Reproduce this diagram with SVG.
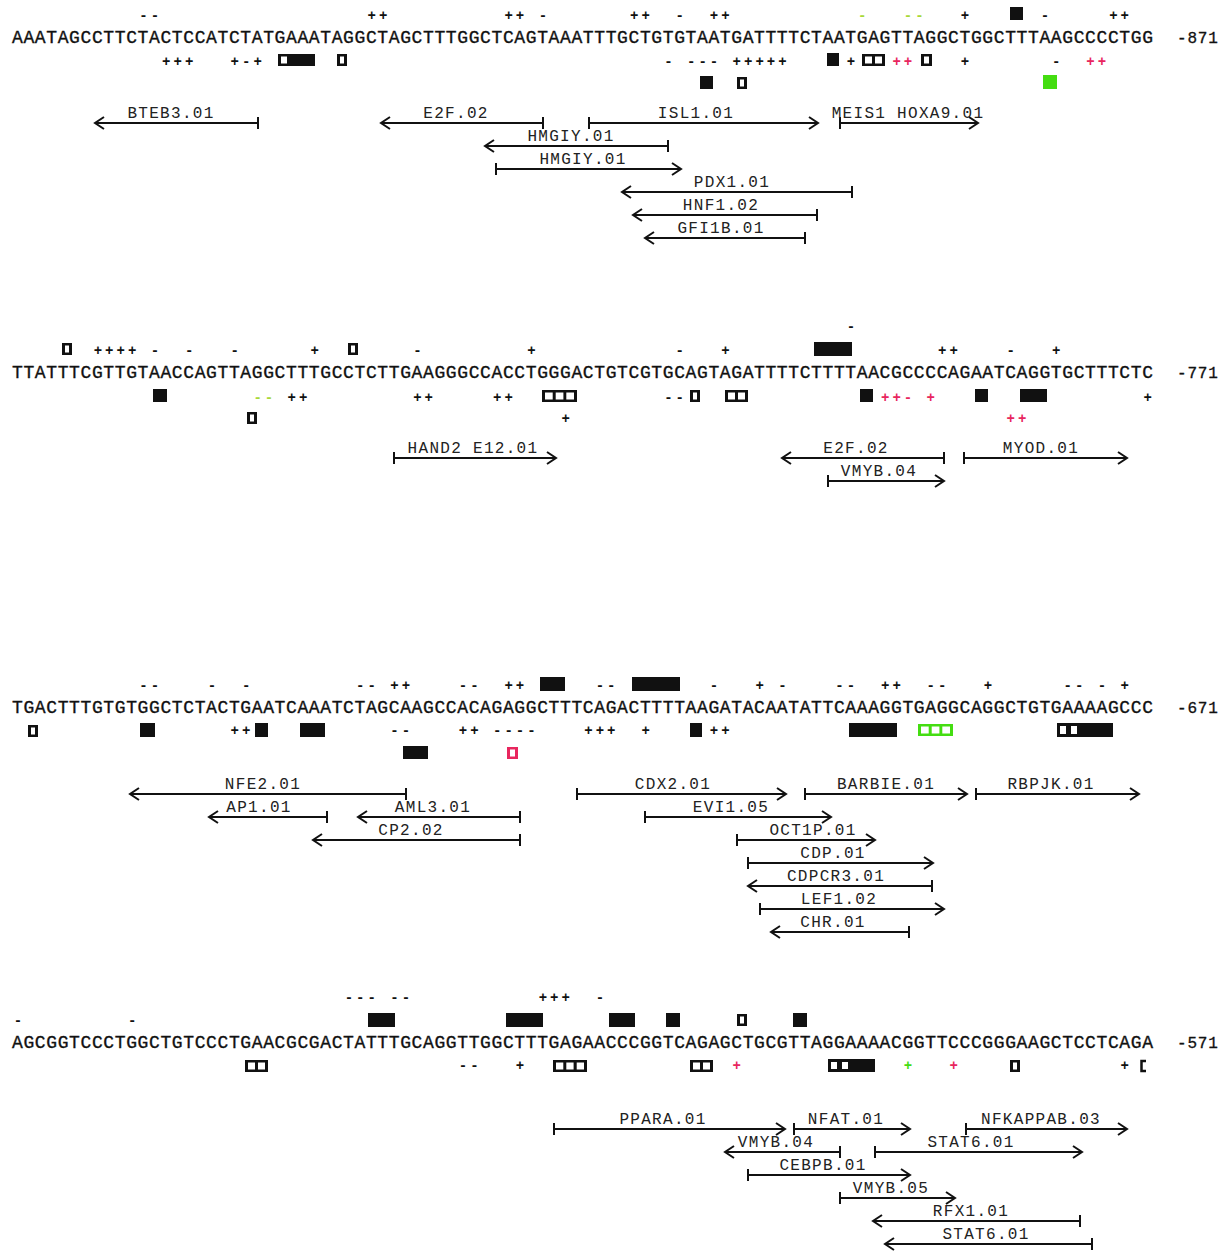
<svg xmlns="http://www.w3.org/2000/svg" width="1231" height="1254" viewBox="0 0 1231 1254">
<style>
.seq{font-family:"Liberation Mono",monospace;font-size:18px;fill:#111;stroke:#111;stroke-width:0.35px}
.pos{font-family:"Liberation Mono",monospace;font-size:16px;fill:#111;letter-spacing:0.8px;stroke:#111;stroke-width:0.3px}
.m{font-family:"Liberation Mono",monospace;font-size:14px;font-weight:bold;letter-spacing:3.01px;fill:#111}
.r{fill:#e8265e}
.gy{fill:#a8d838}
.gb{fill:#44dd11}
.b{fill:#111}
.h{fill:#fff}
.lab{font-family:"Liberation Mono",monospace;font-size:16px;letter-spacing:1.3px;fill:#222;text-anchor:middle}
.arr{stroke:#111;stroke-width:2;fill:none}
</style>
<defs>
<marker id="head" markerUnits="userSpaceOnUse" markerWidth="20" markerHeight="20" refX="0" refY="0" viewBox="-12 -10 14 20" orient="auto" overflow="visible">
<path d="M-9,-6 L0,0 L-9,6" stroke="#111" stroke-width="2" fill="none"/>
</marker>
<marker id="tick" markerUnits="userSpaceOnUse" markerWidth="6" markerHeight="16" refX="0" refY="0" viewBox="-3 -8 6 16" orient="auto" overflow="visible">
<path d="M0,-6 L0,6" stroke="#111" stroke-width="2"/>
</marker>
</defs>
<rect width="1231" height="1254" fill="#fff"/>

<!-- Block 1 -->
<g id="block1">
<text class="seq" x="12" y="43" textLength="1141" lengthAdjust="spacing">AAATAGCCTTCTACTCCATCTATGAAATAGGCTAGCTTTGGCTCAGTAAATTTGCTGTGTAATGATTTTCTAATGAGTTAGGCTGGCTTTAAGCCCCTGG</text>
<text class="pos" x="1177" y="43">-871</text>
<g id="b1-top">
<text class="m" x="139.3" y="19.5">--</text>
<text class="m" x="367.5" y="19.5">++</text>
<text class="m" x="504.4" y="19.5">++</text>
<text class="m" x="538.7" y="19.5">-</text>
<text class="m" x="630.0" y="19.5">++</text>
<text class="m" x="675.6" y="19.5">-</text>
<text class="m" x="709.8" y="19.5">++</text>
<text class="m gy" x="858.1" y="19.5">-</text>
<text class="m gy" x="903.8" y="19.5">--</text>
<text class="m" x="960.8" y="19.5">+</text>
<rect class="b" x="1010" y="7" width="13" height="13"/>
<text class="m" x="1040.7" y="19.5">-</text>
<text class="m" x="1109.2" y="19.5">++</text>
</g>
<g id="b1-bottom">
<text class="m" x="162.1" y="65.5">+++</text>
<text class="m" x="230.6" y="65.5">+-+</text>
<rect class="b" x="278" y="54" width="37" height="12"/><rect class="h" x="281" y="56.5" width="6" height="7"/>
<rect class="b" x="337" y="54" width="10" height="12"/><rect class="h" x="340" y="56.5" width="4" height="7"/>
<text class="m" x="664.2" y="65.5">-</text>
<text class="m" x="687.0" y="65.5">---</text>
<text class="m" x="732.6" y="65.5">+++++</text>
<rect class="b" x="827" y="53" width="12" height="13"/>
<text class="m" x="846.7" y="65.5">+</text>
<rect class="b" x="862" y="54" width="23" height="12"/><rect class="h" x="865" y="56.5" width="7" height="7"/><rect class="h" x="875" y="56.5" width="7" height="7"/>
<text class="m r" x="892.4" y="65.5">++</text>
<rect class="b" x="921" y="54" width="11" height="12"/><rect class="h" x="924" y="56.5" width="5" height="7"/>
<text class="m" x="960.8" y="65.5">+</text>
<text class="m" x="1052.1" y="65.5">-</text>
<text class="m r" x="1086.3" y="65.5">++</text>
<rect class="b" x="700" y="76" width="13" height="13"/>
<rect class="b" x="737" y="77" width="10" height="12"/><rect class="h" x="740" y="79.5" width="4" height="7"/>
<rect class="gb" x="1043" y="75" width="14" height="14"/>
</g>
</g>

<!-- Block 2 -->
<g id="block2">
<text class="seq" x="12" y="378" textLength="1141" lengthAdjust="spacing">TTATTTCGTTGTAACCAGTTAGGCTTTGCCTCTTGAAGGGCCACCTGGGACTGTCGTGCAGTAGATTTTCTTTTAACGCCCCAGAATCAGGTGCTTTCTC</text>
<text class="pos" x="1177" y="378">-771</text>
<g id="b2-top">
<rect class="b" x="62" y="343" width="10" height="12"/><rect class="h" x="65" y="345.5" width="4" height="7"/>
<text class="m" x="93.7" y="354.5">++++</text>
<text class="m" x="150.7" y="354.5">-</text>
<text class="m" x="185.0" y="354.5">-</text>
<text class="m" x="230.6" y="354.5">-</text>
<text class="m" x="310.5" y="354.5">+</text>
<rect class="b" x="348" y="343" width="10" height="12"/><rect class="h" x="351" y="345.5" width="4" height="7"/>
<text class="m" x="413.2" y="354.5">-</text>
<text class="m" x="527.2" y="354.5">+</text>
<text class="m" x="675.6" y="354.5">-</text>
<text class="m" x="721.2" y="354.5">+</text>
<text class="m" x="846.7" y="330.5">-</text>
<rect class="b" x="814" y="342" width="38" height="14"/>
<text class="m" x="938.0" y="354.5">++</text>
<text class="m" x="1006.5" y="354.5">-</text>
<text class="m" x="1052.1" y="354.5">+</text>
</g>
<g id="b2-bottom">
<rect class="b" x="153" y="389" width="14" height="13"/>
<text class="m gy" x="253.4" y="401.5">--</text>
<text class="m" x="287.6" y="401.5">++</text>
<text class="m" x="413.2" y="401.5">++</text>
<text class="m" x="493.0" y="401.5">++</text>
<rect class="b" x="542" y="390" width="35" height="12"/><rect class="h" x="545" y="392.5" width="7.7" height="7"/><rect class="h" x="555.7" y="392.5" width="7.7" height="7"/><rect class="h" x="566.3" y="392.5" width="7.7" height="7"/>
<text class="m" x="664.2" y="401.5">--</text>
<rect class="b" x="690" y="390" width="10" height="12"/><rect class="h" x="693" y="392.5" width="4" height="7"/>
<rect class="b" x="725" y="390" width="23" height="12"/><rect class="h" x="728" y="392.5" width="7" height="7"/><rect class="h" x="738" y="392.5" width="7" height="7"/>
<rect class="b" x="860" y="389" width="13" height="13"/>
<text class="m r" x="881.0" y="401.5">++-</text>
<text class="m r" x="926.6" y="401.5">+</text>
<rect class="b" x="975" y="389" width="13" height="13"/>
<rect class="b" x="1020" y="389" width="27" height="13"/>
<text class="m" x="1143.4" y="401.5">+</text>
<rect class="b" x="247" y="412" width="10" height="12"/><rect class="h" x="250" y="414.5" width="4" height="7"/>
<text class="m" x="561.5" y="422.5">+</text>
<text class="m r" x="1006.5" y="422.5">++</text>
</g>
</g>

<!-- Block 3 -->
<g id="block3">
<text class="seq" x="12" y="713" textLength="1141" lengthAdjust="spacing">TGACTTTGTGTGGCTCTACTGAATCAAATCTAGCAAGCCACAGAGGCTTTCAGACTTTTAAGATACAATATTCAAAGGTGAGGCAGGCTGTGAAAAGCCC</text>
<text class="pos" x="1177" y="713">-671</text>
<g id="b3-top">
<text class="m" x="139.3" y="689.5">--</text>
<text class="m" x="207.8" y="689.5">-</text>
<text class="m" x="242.0" y="689.5">-</text>
<text class="m" x="356.1" y="689.5">--</text>
<text class="m" x="390.3" y="689.5">++</text>
<text class="m" x="458.8" y="689.5">--</text>
<text class="m" x="504.4" y="689.5">++</text>
<rect class="b" x="540" y="677" width="25" height="14"/>
<text class="m" x="595.7" y="689.5">--</text>
<rect class="b" x="632" y="677" width="48" height="14"/>
<text class="m" x="709.8" y="689.5">-</text>
<text class="m" x="755.5" y="689.5">+</text>
<text class="m" x="778.3" y="689.5">-</text>
<text class="m" x="835.3" y="689.5">--</text>
<text class="m" x="881.0" y="689.5">++</text>
<text class="m" x="926.6" y="689.5">--</text>
<text class="m" x="983.7" y="689.5">+</text>
<text class="m" x="1063.5" y="689.5">--</text>
<text class="m" x="1097.8" y="689.5">-</text>
<text class="m" x="1120.6" y="689.5">+</text>
</g>
<g id="b3-bottom">
<rect class="b" x="28" y="725" width="10" height="12"/><rect class="h" x="31" y="727.5" width="4" height="7"/>
<rect class="b" x="140" y="723" width="15" height="14"/>
<text class="m" x="230.6" y="734.5">++</text>
<rect class="b" x="255" y="723" width="13" height="14"/>
<rect class="b" x="300" y="723" width="25" height="14"/>
<text class="m" x="390.3" y="734.5">--</text>
<text class="m" x="458.8" y="734.5">++</text>
<text class="m" x="493.0" y="734.5">----</text>
<text class="m" x="584.3" y="734.5">+++</text>
<text class="m" x="641.4" y="734.5">+</text>
<rect class="b" x="690" y="723" width="12" height="14"/>
<text class="m" x="709.8" y="734.5">++</text>
<rect class="b" x="849" y="723" width="48" height="14"/>
<rect class="gb" x="918" y="724" width="35" height="12"/><rect class="h" x="921" y="726.5" width="7.7" height="7"/><rect class="h" x="931.7" y="726.5" width="7.7" height="7"/><rect class="h" x="942.3" y="726.5" width="7.7" height="7"/>
<rect class="b" x="1057" y="723" width="56" height="14"/><rect class="h" x="1060" y="726" width="6" height="8"/><rect class="h" x="1071" y="726" width="6" height="8"/>
<rect class="b" x="403" y="746" width="25" height="13"/>
<rect class="r" x="507" y="747" width="11" height="12"/><rect class="h" x="510" y="749.5" width="5" height="7"/>
</g>
</g>

<!-- Block 4 -->
<g id="block4">
<text class="seq" x="12" y="1048" textLength="1141" lengthAdjust="spacing">AGCGGTCCCTGGCTGTCCCTGAACGCGACTATTTGCAGGTTGGCTTTGAGAACCCGGTCAGAGCTGCGTTAGGAAAACGGTTCCCGGGAAGCTCCTCAGA</text>
<text class="pos" x="1177" y="1048">-571</text>
<g id="b4-top">
<text class="m" x="344.7" y="1001.5">---</text>
<text class="m" x="390.3" y="1001.5">--</text>
<text class="m" x="538.7" y="1001.5">+++</text>
<text class="m" x="595.7" y="1001.5">-</text>
<text class="m" x="13.8" y="1024.5">-</text>
<text class="m" x="127.9" y="1024.5">-</text>
<rect class="b" x="368" y="1013" width="27" height="14"/>
<rect class="b" x="506" y="1013" width="37" height="14"/>
<rect class="b" x="609" y="1013" width="26" height="14"/>
<rect class="b" x="666" y="1013" width="14" height="14"/>
<rect class="b" x="737" y="1014" width="10" height="12"/><rect class="h" x="740" y="1016.5" width="4" height="7"/>
<rect class="b" x="793" y="1013" width="14" height="14"/>
</g>
<g id="b4-bottom">
<rect class="b" x="245" y="1060" width="23" height="12"/><rect class="h" x="248" y="1062.5" width="7" height="7"/><rect class="h" x="258" y="1062.5" width="7" height="7"/>
<text class="m" x="458.8" y="1069.5">--</text>
<text class="m" x="515.8" y="1069.5">+</text>
<rect class="b" x="553" y="1060" width="34" height="12"/><rect class="h" x="556" y="1062.5" width="7.3" height="7"/><rect class="h" x="566.3" y="1062.5" width="7.3" height="7"/><rect class="h" x="576.7" y="1062.5" width="7.3" height="7"/>
<rect class="b" x="690" y="1060" width="23" height="12"/><rect class="h" x="693" y="1062.5" width="7" height="7"/><rect class="h" x="703" y="1062.5" width="7" height="7"/>
<text class="m r" x="732.6" y="1069.5">+</text>
<rect class="b" x="828" y="1059" width="47" height="13"/><rect class="h" x="831" y="1062" width="6" height="7"/><rect class="h" x="842" y="1062" width="6" height="7"/>
<text class="m gb" x="903.8" y="1069.5">+</text>
<text class="m r" x="949.4" y="1069.5">+</text>
<rect class="b" x="1010" y="1060" width="10" height="12"/><rect class="h" x="1013" y="1062.5" width="4" height="7"/>
<text class="m" x="1120.6" y="1069.5">+</text>
<path d="M1146,1061 H1141.5 V1071 H1146" stroke="#111" stroke-width="2.5" fill="none"/>
</g>
</g>

<!-- Binding sites (connectors) -->
<g id="connectors">
<path class="arr" d="M258,123 H95" marker-start="url(#tick)" marker-end="url(#head)"/>
<path class="arr" d="M543,123 H381" marker-start="url(#tick)" marker-end="url(#head)"/>
<path class="arr" d="M589,123 H818" marker-start="url(#tick)" marker-end="url(#head)"/>
<path class="arr" d="M840,123 H978" marker-start="url(#tick)" marker-end="url(#head)"/>
<path class="arr" d="M668,146 H485" marker-start="url(#tick)" marker-end="url(#head)"/>
<path class="arr" d="M496,169 H681" marker-start="url(#tick)" marker-end="url(#head)"/>
<path class="arr" d="M852,192 H622" marker-start="url(#tick)" marker-end="url(#head)"/>
<path class="arr" d="M817,215 H633" marker-start="url(#tick)" marker-end="url(#head)"/>
<path class="arr" d="M805,238 H645" marker-start="url(#tick)" marker-end="url(#head)"/>

<path class="arr" d="M394,458 H556" marker-start="url(#tick)" marker-end="url(#head)"/>
<path class="arr" d="M944,458 H782" marker-start="url(#tick)" marker-end="url(#head)"/>
<path class="arr" d="M964,458 H1127" marker-start="url(#tick)" marker-end="url(#head)"/>
<path class="arr" d="M828,481 H944" marker-start="url(#tick)" marker-end="url(#head)"/>

<path class="arr" d="M406,794 H130" marker-start="url(#tick)" marker-end="url(#head)"/>
<path class="arr" d="M577,794 H786" marker-start="url(#tick)" marker-end="url(#head)"/>
<path class="arr" d="M805,794 H967" marker-start="url(#tick)" marker-end="url(#head)"/>
<path class="arr" d="M976,794 H1139" marker-start="url(#tick)" marker-end="url(#head)"/>
<path class="arr" d="M327,817 H209" marker-start="url(#tick)" marker-end="url(#head)"/>
<path class="arr" d="M520,817 H358" marker-start="url(#tick)" marker-end="url(#head)"/>
<path class="arr" d="M645,817 H831" marker-start="url(#tick)" marker-end="url(#head)"/>
<path class="arr" d="M520,840 H313" marker-start="url(#tick)" marker-end="url(#head)"/>
<path class="arr" d="M737,840 H875" marker-start="url(#tick)" marker-end="url(#head)"/>
<path class="arr" d="M748,863 H933" marker-start="url(#tick)" marker-end="url(#head)"/>
<path class="arr" d="M932,886 H748" marker-start="url(#tick)" marker-end="url(#head)"/>
<path class="arr" d="M760,909 H944" marker-start="url(#tick)" marker-end="url(#head)"/>
<path class="arr" d="M909,932 H771" marker-start="url(#tick)" marker-end="url(#head)"/>

<path class="arr" d="M554,1129 H785" marker-start="url(#tick)" marker-end="url(#head)"/>
<path class="arr" d="M794,1129 H910" marker-start="url(#tick)" marker-end="url(#head)"/>
<path class="arr" d="M966,1129 H1127" marker-start="url(#tick)" marker-end="url(#head)"/>
<path class="arr" d="M840,1152 H725" marker-start="url(#tick)" marker-end="url(#head)"/>
<path class="arr" d="M875,1152 H1082" marker-start="url(#tick)" marker-end="url(#head)"/>
<path class="arr" d="M748,1175 H910" marker-start="url(#tick)" marker-end="url(#head)"/>
<path class="arr" d="M840,1198 H955" marker-start="url(#tick)" marker-end="url(#head)"/>
<path class="arr" d="M1080,1221 H873" marker-start="url(#tick)" marker-end="url(#head)"/>
<path class="arr" d="M1092,1244 H885" marker-start="url(#tick)" marker-end="url(#head)"/>
</g>

<!-- Site labels -->
<g id="labels">
<g id="site-BTEB3-01"><text class="lab" x="171" y="118">BTEB3.01</text></g>
<g id="site-E2F-02-a"><text class="lab" x="456" y="118">E2F.02</text></g>
<g id="site-ISL1-01"><text class="lab" x="696" y="118">ISL1.01</text></g>
<g id="site-MEIS1-HOXA9-01"><text class="lab" x="908" y="118">MEIS1 HOXA9.01</text></g>
<g id="site-HMGIY-01-a"><text class="lab" x="571" y="141">HMGIY.01</text></g>
<g id="site-HMGIY-01-b"><text class="lab" x="583" y="164">HMGIY.01</text></g>
<g id="site-PDX1-01"><text class="lab" x="732" y="187">PDX1.01</text></g>
<g id="site-HNF1-02"><text class="lab" x="721" y="210">HNF1.02</text></g>
<g id="site-GFI1B-01"><text class="lab" x="721" y="233">GFI1B.01</text></g>

<g id="site-HAND2-E12-01"><text class="lab" x="473" y="453">HAND2 E12.01</text></g>
<g id="site-E2F-02-b"><text class="lab" x="856" y="453">E2F.02</text></g>
<g id="site-MYOD-01"><text class="lab" x="1041" y="453">MYOD.01</text></g>
<g id="site-VMYB-04-a"><text class="lab" x="879" y="476">VMYB.04</text></g>

<g id="site-NFE2-01"><text class="lab" x="263" y="789">NFE2.01</text></g>
<g id="site-CDX2-01"><text class="lab" x="673" y="789">CDX2.01</text></g>
<g id="site-BARBIE-01"><text class="lab" x="886" y="789">BARBIE.01</text></g>
<g id="site-RBPJK-01"><text class="lab" x="1051" y="789">RBPJK.01</text></g>
<g id="site-AP1-01"><text class="lab" x="259" y="812">AP1.01</text></g>
<g id="site-AML3-01"><text class="lab" x="433" y="812">AML3.01</text></g>
<g id="site-EVI1-05"><text class="lab" x="731" y="812">EVI1.05</text></g>
<g id="site-CP2-02"><text class="lab" x="411" y="835">CP2.02</text></g>
<g id="site-OCT1P-01"><text class="lab" x="813" y="835">OCT1P.01</text></g>
<g id="site-CDP-01"><text class="lab" x="833" y="858">CDP.01</text></g>
<g id="site-CDPCR3-01"><text class="lab" x="836" y="881">CDPCR3.01</text></g>
<g id="site-LEF1-02"><text class="lab" x="839" y="904">LEF1.02</text></g>
<g id="site-CHR-01"><text class="lab" x="833" y="927">CHR.01</text></g>

<g id="site-PPARA-01"><text class="lab" x="663" y="1124">PPARA.01</text></g>
<g id="site-NFAT-01"><text class="lab" x="846" y="1124">NFAT.01</text></g>
<g id="site-NFKAPPAB-03"><text class="lab" x="1041" y="1124">NFKAPPAB.03</text></g>
<g id="site-VMYB-04-b"><text class="lab" x="776" y="1147">VMYB.04</text></g>
<g id="site-STAT6-01-a"><text class="lab" x="971" y="1147">STAT6.01</text></g>
<g id="site-CEBPB-01"><text class="lab" x="823" y="1170">CEBPB.01</text></g>
<g id="site-VMYB-05"><text class="lab" x="891" y="1193">VMYB.05</text></g>
<g id="site-RFX1-01"><text class="lab" x="971" y="1216">RFX1.01</text></g>
<g id="site-STAT6-01-b"><text class="lab" x="986" y="1239">STAT6.01</text></g>
</g>
</svg>
